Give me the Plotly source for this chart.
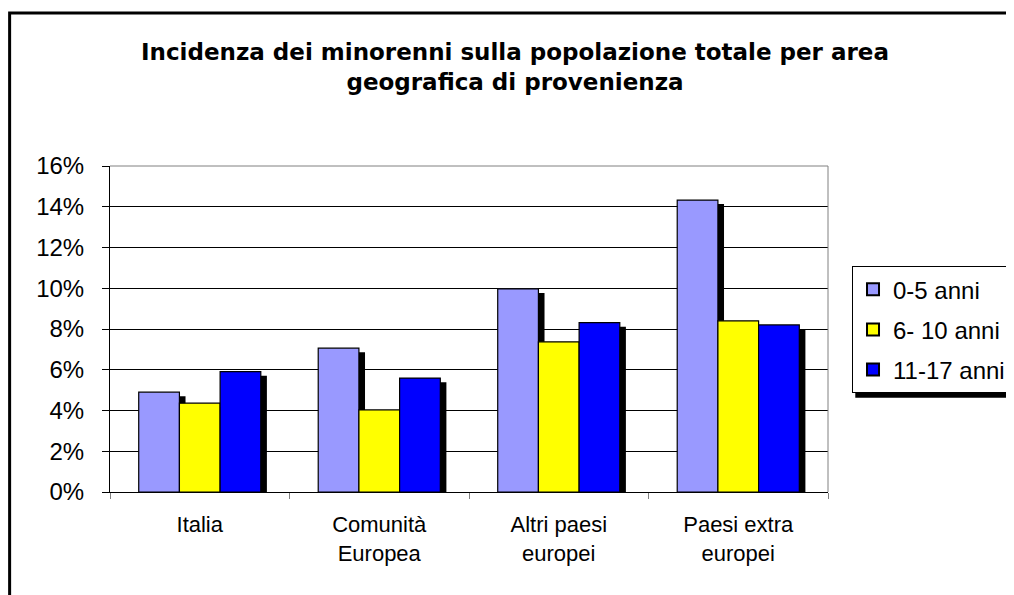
import plotly.graph_objects as go

categories = ["Italia", "Comunità<br>Europea", "Altri paesi<br>europei", "Paesi extra<br>europei"]
series_names = ["0-5 anni", "6- 10 anni", "11-17 anni"]
values_0_5 = [0.049, 0.0706, 0.0997, 0.1433]
values_6_10 = [0.0436, 0.0403, 0.0737, 0.0840]
values_11_17 = [0.0591, 0.0559, 0.0831, 0.0820]
colors = ["#9999FF", "#FFFF00", "#0000FF"]
y_ticks = [0, 0.02, 0.04, 0.06, 0.08, 0.10, 0.12, 0.14, 0.16]

series = [values_0_5, values_6_10, values_11_17]
bar_width = 0.2267
offsets = [-0.34, -0.1133, 0.1134]
shadow_dx = 0.034
shadow_dy = 0.002

fig = go.Figure()

# black drop shadows, drawn first so the next bar covers them
for vals, off in zip(series, offsets):
    fig.add_trace(
        go.Bar(
            x=categories,
            y=[v - shadow_dy for v in vals],
            offset=off + shadow_dx,
            width=bar_width,
            marker=dict(color="black", line=dict(width=0)),
            showlegend=False,
            hoverinfo="skip",
        )
    )

for name, vals, off, col in zip(series_names, series, offsets, colors):
    fig.add_trace(
        go.Bar(
            x=categories,
            y=vals,
            name=name,
            legendgroup=name,
            offset=off,
            width=bar_width,
            marker=dict(color=col, line=dict(color="black", width=1.2)),
        )
    )

fig.update_layout(
    width=1014,
    height=595,
    barmode="overlay",
    paper_bgcolor="white",
    plot_bgcolor="white",
    font=dict(family="Liberation Sans, Arial, sans-serif", color="black"),
    margin=dict(l=102, r=193, t=158, b=111),
    title=dict(
        text="Incidenza dei minorenni sulla popolazione totale per area<br>geografica di provenienza",
        x=0.5,
        xanchor="center",
        y=0.912,
        yanchor="top",
        font=dict(size=23, family="DejaVu Sans, sans-serif", weight="bold"),
    ),
    showlegend=True,
    legend=dict(
        x=1.032,
        y=0.693,
        xanchor="left",
        yanchor="top",
        bordercolor="black",
        borderwidth=1,
        bgcolor="white",
        font=dict(size=24),
        tracegroupgap=6,
        itemsizing="constant",
    ),
    xaxis=dict(
        showline=True,
        linecolor="black",
        linewidth=1,
        ticks="outside",
        ticklen=6,
        tickcolor="#808080",
        tickson="boundaries",
        tickfont=dict(size=22),
        ticklabelstandoff=13,
        showgrid=False,
    ),
    yaxis=dict(
        range=[0, 0.16],
        tickvals=y_ticks,
        tickformat=".0%",
        showline=True,
        linecolor="black",
        linewidth=1,
        ticks="outside",
        ticklen=7,
        tickcolor="black",
        tickfont=dict(size=24),
        ticklabelstandoff=13,
        showgrid=True,
        gridcolor="black",
        gridwidth=1,
        zeroline=False,
    ),
    shapes=[
        # plot area top and right edges
        dict(type="line", xref="paper", yref="paper", x0=0, x1=1, y0=1, y1=1,
             line=dict(color="#808080", width=1)),
        dict(type="line", xref="paper", yref="paper", x0=1, x1=1, y0=0, y1=1,
             line=dict(color="#808080", width=1)),
        # legend shadow
        dict(type="rect", xref="paper", yref="paper", x0=1.038, x1=1.3, y0=0.289, y1=0.307,
             fillcolor="black", line=dict(width=0), layer="below"),
        # chart border
        dict(type="rect", xref="paper", yref="paper", x0=-0.1398, x1=1.4, y0=-0.5, y1=1.469,
             line=dict(color="black", width=3)),
    ],
)

fig.write_html("out.html")
